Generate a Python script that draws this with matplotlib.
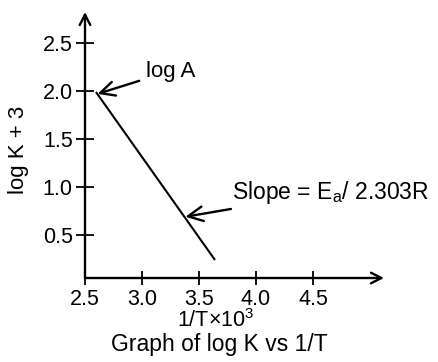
import matplotlib
matplotlib.use("Agg")
import matplotlib.pyplot as plt

plt.rcParams['font.family'] = ['Liberation Sans', 'DejaVu Sans']

# Arrhenius plot: log K + 3 against 1/T x 10^3
inv_T = [2.596, 3.64]
log_k = [1.99, 0.24]

x_ticks = [2.5, 3.0, 3.5, 4.0, 4.5]
x_tick_labels = ["2.5", "3.0", "3.5", "4.0", "4.5"]
y_ticks = [0.5, 1.0, 1.5, 2.0, 2.5]
y_tick_labels = ["0.5", "1.0", "1.5", "2.0", "2.5"]

# points on the line picked out by the callouts
intercept_pt = (2.61, 1.97)
slope_pt = (3.38, 0.69)

W, H = 439, 362
fig = plt.figure(figsize=(W / 100, H / 100), dpi=100)

# axes box in pixels: left 85, right 384, bottom 278, top 12
left, right, bottom, top = 85, 384, 278, 12
ax = fig.add_axes([left / W, 1 - bottom / H, (right - left) / W, (bottom - top) / H])

px_per_x = 114.0     # pixels per unit of 1/T x 10^3
px_per_y = 96.0      # pixels per unit of log K + 3
x0 = 2.5
x1 = x0 + (right - left) / px_per_x
y0 = 0.5 - (bottom - 235) / px_per_y
y1 = 0.5 + (235 - top) / px_per_y
ax.set_xlim(x0, x1)
ax.set_ylim(y0, y1)

for s in ax.spines.values():
    s.set_visible(False)

# axis lines with open arrowheads
axis_arrow = dict(arrowstyle='->,head_length=0.75,head_width=0.38', lw=1.7, color='black',
                  shrinkA=0, shrinkB=0)
ax.annotate('', xy=(1, 0), xytext=(0, 0), xycoords='axes fraction', arrowprops=axis_arrow)
ax.annotate('', xy=(0, 1), xytext=(0, 0), xycoords='axes fraction', arrowprops=axis_arrow)

ax.set_xticks(x_ticks)
ax.set_xticklabels(x_tick_labels)
ax.set_yticks(y_ticks)
ax.set_yticklabels(y_tick_labels)
ax.tick_params(axis='x', direction='inout', length=9.5, width=1.3, labelsize=15.5, pad=3.5,
               colors='black')
ax.tick_params(axis='y', direction='inout', length=13.5, width=1.3, labelsize=15.5, pad=2,
               colors='black')

ax.plot(inv_T, log_k, color='black', lw=1.5, solid_capstyle='butt')

callout_arrow = dict(arrowstyle='->,head_length=0.65,head_width=0.32', lw=1.7, color='black',
                     shrinkA=3, shrinkB=0)
ax.annotate('log A', xy=intercept_pt, xytext=(146, H - 71), textcoords='figure pixels',
            fontsize=16, va='center', ha='left', arrowprops=callout_arrow)
ax.annotate('Slope = E$_\\mathregular{a}$/ 2.303R', xy=slope_pt, xytext=(232, H - 192),
            textcoords='figure pixels', fontsize=16.5, va='center', ha='left',
            arrowprops=callout_arrow)

fig.text(19 / W, 1 - 150 / H, 'log K + 3', rotation=90, fontsize=16, ha='center', va='center')
fig.text(216 / W, 1 - 321 / H, '1/T×10$^\\mathregular{3}$', fontsize=15.5, ha='center',
         va='center')
fig.text(219 / W, 1 - 345 / H, 'Graph of log K vs 1/T', fontsize=16.5, ha='center',
         va='center')

fig.savefig('out.png', dpi=100)
